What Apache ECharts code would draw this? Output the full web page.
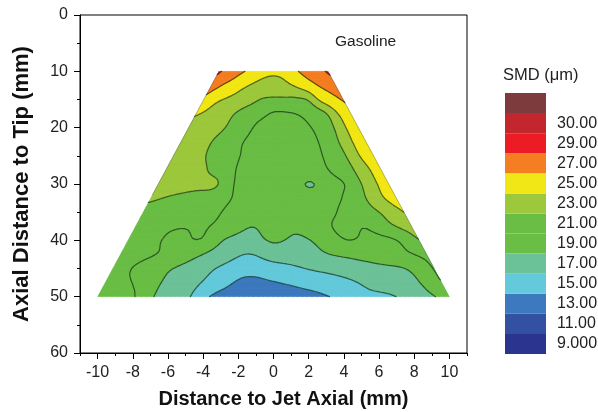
<!DOCTYPE html>
<html>
<head>
<meta charset="utf-8">
<style>
  html, body { margin: 0; padding: 0; background: #fff; }
  #chart { width: 598px; height: 412px; }
</style>
<script src="https://cdn.jsdelivr.net/npm/echarts@6/dist/echarts.min.js"></script>
</head>
<body>
<div id="chart"></div>
<script>
// SMD contour map of the gasoline spray

// rows of the measurement grid (axial distance, mm)
const depths = [10, 12.5, 15, 17.5, 20, 22.5, 25, 27.5, 30, 32.5, 35, 37.5, 40, 42.5, 45, 47.5, 50];
// columns, as a fraction of the half width of the spray at that depth
const spanFractions = [-1, -5 / 6, -4 / 6, -3 / 6, -2 / 6, -1 / 6, 0, 1 / 6, 2 / 6, 3 / 6, 4 / 6, 5 / 6, 1];
const halfWidthTop = 3.1;   // mm, at 10 mm
const halfWidthBottom = 10; // mm, at 50 mm

// SMD (um), one row per depth
const smd = [
  [27.3, 26.3, 25.6, 24.9, 24.1, 23.5, 23.3, 23.5, 24.4, 25.2, 25.8, 26.4, 27.3],
  [26.0, 25.0, 24.3, 23.4, 22.8, 22.4, 22.3, 22.5, 23.1, 24.0, 24.8, 25.5, 26.2],
  [24.5, 23.4, 22.8, 22.2, 21.6, 20.9, 20.7, 20.7, 20.7, 21.2, 23.3, 24.3, 25.2],
  [23.2, 22.6, 21.9, 21.0, 20.2, 19.5, 18.85, 18.85, 19.15, 19.9, 20.8, 23.0, 24.4],
  [22.4, 22.0, 21.5, 20.6, 19.6, 18.6, 18.3, 18.3, 18.5, 19.3, 20.4, 22.8, 24.0],
  [22.3, 21.9, 21.0, 20.0, 19.05, 18.4, 18.1, 18.1, 18.3, 19.1, 20.5, 22.8, 24.0],
  [22.4, 21.8, 20.95, 19.9, 19.0, 18.4, 18.1, 18.1, 18.4, 19.05, 20.2, 22.7, 24.1],
  [22.3, 21.8, 21.3, 20.2, 18.9, 18.3, 18.0, 18.0, 18.3, 18.95, 19.9, 22.3, 24.0],
  [22.0, 21.8, 21.5, 21.2, 18.9, 18.0, 17.8, 17.6, 16.9, 18.5, 19.4, 22.2, 24.0],
  [21.3, 20.8, 20.4, 20.0, 18.95, 18.0, 17.7, 17.7, 17.9, 18.7, 19.8, 22.2, 24.0],
  [20.3, 20.1, 19.9, 19.6, 18.6, 17.9, 17.6, 17.6, 17.9, 19.1, 20.0, 21.2, 23.0],
  [19.8, 19.4, 19.1, 19.15, 18.2, 17.05, 17.6, 17.3, 18.2, 19.5, 19.1, 20.6, 21.8],
  [19.7, 19.3, 18.6, 18.9, 16.9, 16.3, 17.2, 16.7, 17.5, 18.95, 18.6, 18.9, 20.9],
  [19.7, 19.25, 18.5, 17.3, 16.0, 14.95, 15.8, 15.8, 16.85, 17.4, 17.9, 18.6, 19.4],
  [19.6, 18.7, 17.3, 16.2, 14.8, 13.8, 14.3, 14.9, 15.5, 16.1, 16.6, 17.1, 19.1],
  [19.5, 18.95, 17.0, 15.7, 14.0, 12.5, 12.9, 13.5, 14.1, 15.0, 15.9, 16.6, 18.9],
  [19.4, 19.6, 16.8, 15.4, 12.6, 11.8, 11.9, 12.3, 13.1, 14.6, 14.8, 16.3, 17.6]
];

const levels = [9, 11, 13, 15, 17, 19, 21, 23, 25, 27, 29, 30];
const bandColors = ['#2b3590', '#3450a1', '#3c79be', '#64c9da', '#6cc298', '#6abd45', '#6abd45',
  '#9dc83c', '#f2e716', '#f47e21', '#ed1c24', '#c1272d', '#7d3b3e'];
const legendLabels = ['9.000', '11.00', '13.00', '15.00', '17.00', '19.00', '21.00',
  '23.00', '25.00', '27.00', '29.00', '30.00', ''];
const xTicks = [-10, -8, -6, -4, -2, 0, 2, 4, 6, 8, 10];

const FONT = 'Liberation Sans, Arial, sans-serif';

function bandOf(v) {
  let k = 0;
  while (k < levels.length && v >= levels[k]) k++;
  return k;
}

// keep the part of poly where s*(v-L) >= 0
function clip(poly, L, s) {
  const out = [];
  for (let i = 0; i < poly.length; i++) {
    const a = poly[i], b = poly[(i + 1) % poly.length];
    const ia = s * (a[2] - L) >= 0, ib = s * (b[2] - L) >= 0;
    if (ia) out.push(a);
    if (ia !== ib) {
      const t = (L - a[2]) / (b[2] - a[2]);
      out.push([a[0] + t * (b[0] - a[0]), a[1] + t * (b[1] - a[1]), L]);
    }
  }
  return out;
}

function halfWidth(y) {
  return halfWidthTop + (halfWidthBottom - halfWidthTop) * (y - depths[0]) / (depths[depths.length - 1] - depths[0]);
}

function renderContour(params, api) {
  const R = depths.length, C = spanFractions.length, sub = 6;
  const val = (r, c) => {
    if (r < 0) return 2 * val(0, c) - val(1, c);
    if (r > R - 1) return 2 * val(R - 1, c) - val(R - 2, c);
    if (c < 0) return 2 * val(r, 0) - val(r, 1);
    if (c > C - 1) return 2 * val(r, C - 1) - val(r, C - 2);
    return smd[r][c];
  };
  const cr = (p0, p1, p2, p3, t) =>
    0.5 * (2 * p1 + (p2 - p0) * t + (2 * p0 - 5 * p1 + 4 * p2 - p3) * t * t + (3 * p1 - p0 - 3 * p2 + p3) * t * t * t);
  const lerpIdx = (arr, f) => {
    const i = Math.min(Math.floor(f), arr.length - 2);
    return arr[i] + (arr[i + 1] - arr[i]) * (f - i);
  };

  const Rr = (R - 1) * sub + 1, Cr = (C - 1) * sub + 1;
  const nodes = [];
  for (let i = 0; i < Rr; i++) {
    const rf = i / sub, r0 = Math.min(Math.floor(rf), R - 2), tr = rf - r0;
    const y = lerpIdx(depths, rf);
    const hw = halfWidth(y);
    const row = [];
    for (let j = 0; j < Cr; j++) {
      const cf = j / sub, c0 = Math.min(Math.floor(cf), C - 2), tc = cf - c0;
      const u = lerpIdx(spanFractions, cf);
      const col = [];
      for (let k = -1; k <= 2; k++) {
        col.push(cr(val(r0 + k, c0 - 1), val(r0 + k, c0), val(r0 + k, c0 + 1), val(r0 + k, c0 + 2), tc));
      }
      const v = cr(col[0], col[1], col[2], col[3], tr);
      const p = api.coord([u * hw, y]);
      row.push([p[0], p[1], v]);
    }
    nodes.push(row);
  }

  const f = n => n.toFixed(2);
  const bandPaths = bandColors.map(() => []);
  const linePath = [];
  const addPoly = (k, poly) => {
    bandPaths[k].push('M' + poly.map(p => f(p[0]) + ' ' + f(p[1])).join('L') + 'Z');
  };
  const seg = (A, B, D, L) => {
    const pts = [];
    [[A, B], [B, D], [D, A]].forEach(([a, b]) => {
      if ((a[2] >= L) !== (b[2] >= L)) {
        const t = (L - a[2]) / (b[2] - a[2]);
        pts.push([a[0] + t * (b[0] - a[0]), a[1] + t * (b[1] - a[1])]);
      }
    });
    if (pts.length === 2) {
      linePath.push('M' + f(pts[0][0]) + ' ' + f(pts[0][1]) + 'L' + f(pts[1][0]) + ' ' + f(pts[1][1]));
    }
  };
  const tri = (A, B, D) => {
    const lo = Math.min(A[2], B[2], D[2]), hi = Math.max(A[2], B[2], D[2]);
    const k0 = bandOf(lo), k1 = bandOf(hi);
    if (k0 === k1) { addPoly(k0, [A, B, D]); return; }
    for (let k = k0; k <= k1; k++) {
      let poly = [A, B, D];
      if (k > 0) poly = clip(poly, levels[k - 1], 1);
      if (k < levels.length && poly.length) poly = clip(poly, levels[k], -1);
      if (poly.length >= 3) addPoly(k, poly);
    }
    for (let k = k0; k < k1; k++) seg(A, B, D, levels[k]);
  };

  for (let i = 0; i < Rr - 1; i++) {
    for (let j = 0; j < Cr - 1; j++) {
      const a = nodes[i][j], b = nodes[i][j + 1], c = nodes[i + 1][j + 1], d = nodes[i + 1][j];
      tri(a, b, c);
      tri(a, c, d);
    }
  }

  const children = [];
  bandPaths.forEach((parts, k) => {
    if (!parts.length) return;
    children.push({
      type: 'path',
      shape: { pathData: parts.join('') },
      style: { fill: bandColors[k], stroke: bandColors[k], lineWidth: 0.3 }
    });
  });
  children.push({
    type: 'path',
    shape: { pathData: linePath.join('') },
    style: { fill: 'none', stroke: 'rgba(0,25,10,0.62)', lineWidth: 1.2, lineCap: 'round' }
  });

  // faint dark rim along the upper slanted sides of the measured region
  const yTop = depths[0];
  const leftA = api.coord([-halfWidth(yTop), yTop]), leftB = api.coord([-halfWidth(32), 32]);
  const rightA = api.coord([halfWidth(yTop), yTop]), rightB = api.coord([halfWidth(45), 45]);
  children.push({
    type: 'path',
    shape: { pathData: 'M' + f(leftA[0]) + ' ' + f(leftA[1]) + 'L' + f(leftB[0]) + ' ' + f(leftB[1]) +
      'M' + f(rightA[0]) + ' ' + f(rightA[1]) + 'L' + f(rightB[0]) + ' ' + f(rightB[1]) },
    style: { fill: 'none', stroke: 'rgba(40,40,40,0.35)', lineWidth: 0.9 }
  });
  return { type: 'group', children: children };
}

const chart = echarts.init(document.getElementById('chart'), null, { renderer: 'canvas' });

const option = {
  animation: false,
  backgroundColor: '#fff',
  textStyle: { fontFamily: FONT },
  grid: [
    { left: 80, right: 131, top: 15, bottom: 59, show: true, borderColor: '#000', borderWidth: 1,
      containLabel: false, outerBoundsMode: 'none' },
    { left: 505, width: 41, top: 93, height: 261, containLabel: false, outerBoundsMode: 'none' },
    { left: 80, right: 131, top: 15, bottom: 59, containLabel: false, outerBoundsMode: 'none' }
  ],
  xAxis: [
    {
      type: 'value', gridIndex: 0, min: -11, max: 11, position: 'bottom',
      axisLine: { show: true, onZero: false, lineStyle: { color: '#000', width: 1 } },
      axisTick: { show: true, customValues: xTicks, length: 6, lineStyle: { color: '#000' } },
      axisLabel: { customValues: xTicks, fontSize: 16, color: '#222', margin: 12, fontFamily: FONT },
      splitLine: { show: false },
      name: 'Distance to Jet Axial (mm)', nameLocation: 'middle', nameGap: 36,
      nameTextStyle: { fontSize: 20, fontWeight: 'bold', color: '#111', fontFamily: FONT, padding: [0, 0, 0, 20] }
    },
    { type: 'value', gridIndex: 1, min: 0, max: 1, show: false },
    {
      type: 'value', gridIndex: 2, min: -11, max: 11, interval: 1, position: 'bottom',
      axisLine: { show: false, onZero: false },
      axisTick: { show: true, length: 3, lineStyle: { color: '#000' } },
      axisLabel: { show: false },
      splitLine: { show: false }
    }
  ],
  yAxis: [
    {
      type: 'value', gridIndex: 0, min: 0, max: 60, interval: 10, inverse: true, position: 'left',
      axisLine: { show: true, onZero: false, lineStyle: { color: '#000', width: 1 } },
      axisTick: { show: true, length: 6, lineStyle: { color: '#000' } },
      minorTick: { show: true, splitNumber: 2, length: 3, lineStyle: { color: '#000' } },
      axisLabel: { fontSize: 16, color: '#222', margin: 12, fontFamily: FONT },
      splitLine: { show: false },
      minorSplitLine: { show: false },
      name: 'Axial Distance to Tip (mm)', nameLocation: 'middle', nameGap: 47, nameRotate: 90,
      nameTextStyle: { fontSize: 22, fontWeight: 'bold', color: '#111', fontFamily: FONT }
    },
    {
      type: 'category', gridIndex: 1, data: legendLabels, position: 'right',
      axisLine: { show: false, onZero: false }, axisTick: { show: false },
      axisLabel: { interval: 0, fontSize: 16, color: '#222', margin: 11, fontFamily: FONT }
    },
    {
      type: 'value', gridIndex: 2, min: 0, max: 60, position: 'left',
      axisLine: { show: false, onZero: false }, axisTick: { show: false },
      axisLabel: { show: false }, splitLine: { show: false }
    }
  ],
  graphic: [
    { type: 'text', left: 335, top: 34, style: { text: 'Gasoline', fontSize: 15.5, fill: '#222', fontFamily: FONT } },
    { type: 'text', left: 503, top: 67, style: { text: 'SMD (\u03bcm)', fontSize: 16.5, fill: '#222', fontFamily: FONT } }
  ],
  series: [
    {
      type: 'custom', xAxisIndex: 0, yAxisIndex: 0, coordinateSystem: 'cartesian2d',
      renderItem: renderContour, data: [[0, 30]], clip: false, silent: true
    },
    {
      type: 'bar', xAxisIndex: 1, yAxisIndex: 1, silent: true,
      barCategoryGap: 0,
      data: bandColors.map(c => ({ value: 1, itemStyle: { color: c } }))
    }
  ]
};

chart.setOption(option);
</script>
</body>
</html>
